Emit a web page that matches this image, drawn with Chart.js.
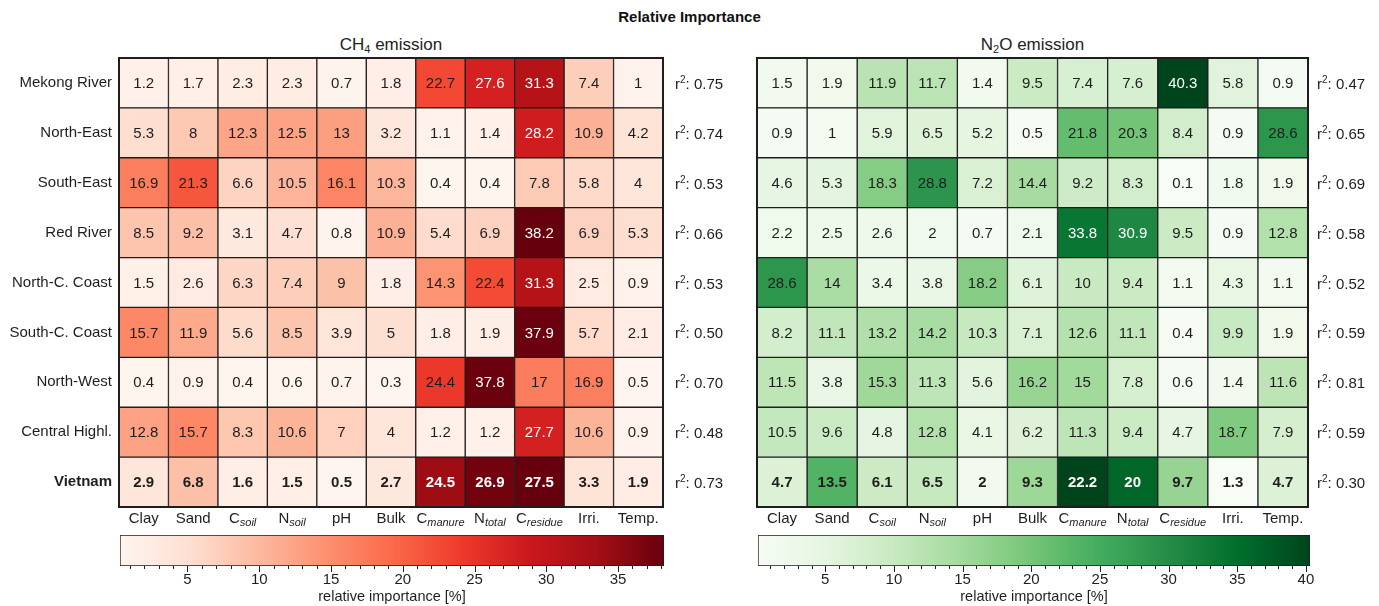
<!DOCTYPE html>
<html>
<head>
<meta charset="utf-8">
<script src="https://cdn.jsdelivr.net/npm/chart.js@4.4.0/dist/chart.umd.min.js"></script>
<style>
  body { margin: 0; background: #fff; font-family: "Liberation Sans", Arial, sans-serif; }
  #page { position: relative; width: 1379px; height: 606px; overflow: hidden; }
  #page canvas { position: absolute; }
  #title { position: absolute; top: 8px; left: 0; width: 1379px; text-align: center; font-weight: bold; font-size: 15px; color: #111; }
  .sub { position: absolute; top: 35px; font-size: 17px; text-align: center; color: #222; }
  .sub sub { font-size: 11px; vertical-align: -3px; line-height: 0; }
</style>
</head>
<body>
<div id="page">
  <div id="title">Relative Importance</div>
  <div class="sub" style="left:119px;width:544px">CH<sub>4</sub> emission</div>
  <div class="sub" style="left:757px;width:551px">N<sub>2</sub>O emission</div>
  <canvas id="hm-ch4" width="740" height="480" style="left:0;top:50px"></canvas>
  <canvas id="hm-n2o" width="639" height="480" style="left:740px;top:50px"></canvas>
  <canvas id="cb-ch4" width="740" height="76" style="left:0;top:530px"></canvas>
  <canvas id="cb-n2o" width="639" height="76" style="left:740px;top:530px"></canvas>
</div>
<script>
// regions (rows) and predictors (columns)
const regions = ['Mekong River', 'North-East', 'South-East', 'Red River', 'North-C. Coast',
                 'South-C. Coast', 'North-West', 'Central Highl.', 'Vietnam'];
const colMain = ['Clay', 'Sand', 'C', 'N', 'pH', 'Bulk', 'C', 'N', 'C', 'Irri.', 'Temp.'];
const colSub  = ['', '', 'soil', 'soil', '', '', 'manure', 'total', 'residue', '', ''];

// relative importance [%], CH4
const ch4 = [
  [1.2, 1.7, 2.3, 2.3, 0.7, 1.8, 22.7, 27.6, 31.3, 7.4, 1],
  [5.3, 8, 12.3, 12.5, 13, 3.2, 1.1, 1.4, 28.2, 10.9, 4.2],
  [16.9, 21.3, 6.6, 10.5, 16.1, 10.3, 0.4, 0.4, 7.8, 5.8, 4],
  [8.5, 9.2, 3.1, 4.7, 0.8, 10.9, 5.4, 6.9, 38.2, 6.9, 5.3],
  [1.5, 2.6, 6.3, 7.4, 9, 1.8, 14.3, 22.4, 31.3, 2.5, 0.9],
  [15.7, 11.9, 5.6, 8.5, 3.9, 5, 1.8, 1.9, 37.9, 5.7, 2.1],
  [0.4, 0.9, 0.4, 0.6, 0.7, 0.3, 24.4, 37.8, 17, 16.9, 0.5],
  [12.8, 15.7, 8.3, 10.6, 7, 4, 1.2, 1.2, 27.7, 10.6, 0.9],
  [2.9, 6.8, 1.6, 1.5, 0.5, 2.7, 24.5, 26.9, 27.5, 3.3, 1.9]
];
// relative importance [%], N2O
const n2o = [
  [1.5, 1.9, 11.9, 11.7, 1.4, 9.5, 7.4, 7.6, 40.3, 5.8, 0.9],
  [0.9, 1, 5.9, 6.5, 5.2, 0.5, 21.8, 20.3, 8.4, 0.9, 28.6],
  [4.6, 5.3, 18.3, 28.8, 7.2, 14.4, 9.2, 8.3, 0.1, 1.8, 1.9],
  [2.2, 2.5, 2.6, 2, 0.7, 2.1, 33.8, 30.9, 9.5, 0.9, 12.8],
  [28.6, 14, 3.4, 3.8, 18.2, 6.1, 10, 9.4, 1.1, 4.3, 1.1],
  [8.2, 11.1, 13.2, 14.2, 10.3, 7.1, 12.6, 11.1, 0.4, 9.9, 1.9],
  [11.5, 3.8, 15.3, 11.3, 5.6, 16.2, 15, 7.8, 0.6, 1.4, 11.6],
  [10.5, 9.6, 4.8, 12.8, 4.1, 6.2, 11.3, 9.4, 4.7, 18.7, 7.9],
  [4.7, 13.5, 6.1, 6.5, 2, 9.3, 22.2, 20, 9.7, 1.3, 4.7]
];
const r2Ch4 = ['0.75', '0.74', '0.53', '0.66', '0.53', '0.50', '0.70', '0.48', '0.73'];
const r2N2o = ['0.47', '0.65', '0.69', '0.58', '0.52', '0.59', '0.81', '0.59', '0.30'];

const reds   = ['#fff5f0', '#fee0d2', '#fcbba1', '#fc9272', '#fb6a4a', '#ef3b2c', '#cb181d', '#a50f15', '#67000d'];
const greens = ['#f7fcf5', '#e5f5e0', '#c7e9c0', '#a1d99b', '#74c476', '#41ab5d', '#238b45', '#006d2c', '#00441b'];

const FONT = '"Liberation Sans", Arial, sans-serif';
const INK = '#1e1e1e';
Chart.defaults.font.family = FONT;
Chart.defaults.color = INK;

function hexToRgb(h) { return [1, 3, 5].map(i => parseInt(h.substr(i, 2), 16)); }
function cmap(stops, t) {
  t = Math.max(0, Math.min(1, t));
  const p = t * (stops.length - 1);
  const i = Math.min(Math.floor(p), stops.length - 2);
  const f = p - i;
  const a = hexToRgb(stops[i]), b = hexToRgb(stops[i + 1]);
  return 'rgb(' + a.map((v, k) => Math.round(v + (b[k] - v) * f)).join(',') + ')';
}

// regional rows share one scale, the national row (last) is scaled on its own
function scaleFor(values) {
  const regional = values.slice(0, -1).flat();
  const nat = values[values.length - 1];
  return { gMin: Math.min(...regional), gMax: Math.max(...regional),
           nMin: Math.min(...nat), nMax: Math.max(...nat) };
}
function normFor(values) {
  const s = scaleFor(values);
  const last = values.length - 1;
  return values.map((row, ri) => row.map(v => ri === last
    ? (v - s.nMin) / (s.nMax - s.nMin)
    : (v - s.gMin) / (s.gMax - s.gMin)));
}

const cellText = {
  id: 'cellText',
  afterDatasetsDraw(chart, args, o) {
    const ctx = chart.ctx;
    const last = regions.length - 1;
    const a = chart.chartArea;
    const ys = chart.scales.y;
    ctx.save();
    ctx.textAlign = 'center';
    ctx.textBaseline = 'middle';
    chart.data.datasets.forEach((ds, ci) => {
      chart.getDatasetMeta(ci).data.forEach((bar, ri) => {
        ctx.fillStyle = o.norms[ri][ci] > o.whiteAt ? '#ffffff' : INK;
        ctx.font = (ri === last ? 'bold ' : '') + '15px ' + FONT;
        ctx.fillText(String(o.values[ri][ci]), (bar.x + bar.base) / 2, bar.y + 1);
      });
    });
    // frame
    ctx.lineWidth = 2;
    ctx.strokeStyle = INK;
    ctx.strokeRect(a.left, a.top, a.right - a.left, a.bottom - a.top);
    ctx.fillStyle = INK;
    ctx.textAlign = 'left';
    ctx.textBaseline = 'alphabetic';
    // r² per row
    o.r2.forEach((v, ri) => {
      const y = ys.getPixelForValue(ri) + 6;
      let x = a.right + o.r2pad;
      ctx.font = '15px ' + FONT;
      ctx.fillText('r', x, y);
      x += ctx.measureText('r').width;
      ctx.font = '10px ' + FONT;
      ctx.fillText('2', x, y - 6);
      x += ctx.measureText('2').width;
      ctx.font = '15px ' + FONT;
      ctx.fillText(': ' + v, x, y);
    });
    // column labels with subscripts
    const xs = chart.scales.x;
    colMain.forEach((m, ci) => {
      const cx = xs.getPixelForValue(ci + 0.5);
      ctx.font = '15px ' + FONT;
      const w1 = ctx.measureText(m).width;
      ctx.font = 'italic 11px ' + FONT;
      const w2 = colSub[ci] ? ctx.measureText(colSub[ci]).width : 0;
      const x0 = cx - (w1 + w2) / 2;
      ctx.font = '15px ' + FONT;
      ctx.fillText(m, x0, a.bottom + 16);
      if (colSub[ci]) {
        ctx.font = 'italic 11px ' + FONT;
        ctx.fillText(colSub[ci], x0 + w1, a.bottom + 19);
      }
    });
    ctx.restore();
  }
};

function makeHeatmap(id, values, stops, r2, whiteAt, leftW, rightW, r2pad, showRows) {
  const norms = normFor(values);
  const datasets = colMain.map((c, ci) => ({
    data: regions.map(() => [ci, ci + 1]),
    backgroundColor: regions.map((_, ri) => cmap(stops, norms[ri][ci])),
    borderColor: INK,
    borderWidth: 1,
    borderSkipped: false,
    grouped: false,
    barPercentage: 1,
    categoryPercentage: 1
  }));
  new Chart(document.getElementById(id), {
    type: 'bar',
    data: { labels: regions, datasets },
    options: {
      indexAxis: 'y',
      responsive: false,
      animation: false,
      devicePixelRatio: 1,
      layout: { padding: { top: 8, bottom: 23, right: rightW } },
      plugins: {
        legend: { display: false },
        tooltip: { enabled: false },
        cellText: { values, norms, whiteAt, r2, r2pad }
      },
      scales: {
        x: { type: 'linear', min: 0, max: colMain.length, display: false },
        y: {
          type: 'category',
          offset: true,
          grid: { display: false, drawTicks: false },
          border: { display: false },
          ticks: {
            display: showRows,
            padding: 7,
            color: INK,
            font: c => ({ size: 15, family: FONT, weight: c.index === regions.length - 1 ? 'bold' : 'normal' })
          },
          afterFit: s => {
            s.width = leftW;
            s.paddingTop = 0;
            s.paddingBottom = 0;
          }
        }
      }
    },
    plugins: [cellText]
  });
}

const cbTicks = {
  id: 'cbTicks',
  afterDraw(chart) {
    const ctx = chart.ctx, xs = chart.scales.x, a = chart.chartArea;
    ctx.save();
    ctx.strokeStyle = INK;
    ctx.lineWidth = 1;
    xs.ticks.forEach(t => {
      const px = Math.round(xs.getPixelForValue(t.value)) + 0.5;
      const len = t.value % 5 === 0 ? 6 : 3;
      ctx.beginPath();
      ctx.moveTo(px, a.bottom);
      ctx.lineTo(px, a.bottom + len);
      ctx.stroke();
    });
    ctx.restore();
  }
};

function makeColorbar(id, values, stops, padL, padR) {
  const s = scaleFor(values);
  new Chart(document.getElementById(id), {
    type: 'bar',
    data: {
      labels: ['cb'],
      datasets: [{
        data: [[s.gMin, s.gMax]],
        backgroundColor: c => {
          const a = c.chart.chartArea;
          if (!a) return stops[0];
          const g = c.chart.ctx.createLinearGradient(a.left, 0, a.right, 0);
          stops.forEach((col, i) => g.addColorStop(i / (stops.length - 1), col));
          return g;
        },
        borderColor: INK,
        borderWidth: 1,
        borderSkipped: false,
        barPercentage: 1,
        categoryPercentage: 1
      }]
    },
    options: {
      indexAxis: 'y',
      responsive: false,
      animation: false,
      devicePixelRatio: 1,
      layout: { padding: { left: padL, right: padR, top: 5, bottom: 0 } },
      plugins: { legend: { display: false }, tooltip: { enabled: false } },
      scales: {
        y: { display: false },
        x: {
          type: 'linear',
          min: s.gMin,
          max: s.gMax,
          afterBuildTicks: ax => {
            const t = [];
            for (let v = Math.ceil(s.gMin); v <= Math.floor(s.gMax); v++) t.push({ value: v });
            ax.ticks = t;
          },
          grid: { display: false, drawTicks: false },
          border: { display: false },
          ticks: {
            autoSkip: false,
            maxRotation: 0,
            padding: 5,
            color: INK,
            font: { size: 15 },
            callback: v => (v % 5 === 0 ? String(v) : '')
          },
          title: { display: true, text: 'relative importance [%]', color: INK, font: { size: 14.5 }, padding: { top: 0, bottom: 0 } },
          afterFit: sc => { sc.height = 40; }
        }
      }
    },
    plugins: [cbTicks]
  });
}

makeHeatmap('hm-ch4', ch4, reds, r2Ch4, 0.7, 119, 77, 12, true);
makeHeatmap('hm-n2o', n2o, greens, r2N2o, 0.74, 17, 71, 9, false);
makeColorbar('cb-ch4', ch4, reds, 120, 76);
makeColorbar('cb-n2o', n2o, greens, 18, 69);
</script>
</body>
</html>
